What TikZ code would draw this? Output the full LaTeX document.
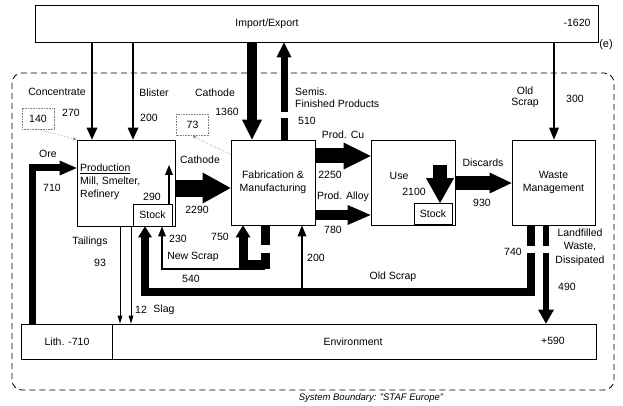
\documentclass[tikz,border=0pt]{standalone}
\usepackage{fontspec}
\setmainfont{Liberation Sans}
\usetikzlibrary{arrows.meta}
\begin{document}
\begin{tikzpicture}[x=1pt,y=-1pt,
  font=\fontsize{10.5}{12.5}\selectfont,
  box/.style={draw,line width=0.8pt,fill=white,inner sep=0pt},
  lbl/.style={inner sep=0pt},
  dotbox/.style={draw,densely dotted,gray,line width=0.6pt,inner sep=0pt,minimum width=32pt,minimum height=21pt,text=black},
  dotline/.style={densely dotted,gray,line width=0.5pt,-{Stealth[length=4pt,width=3.5pt,line width=0pt]}},
  flow/.style args={#1/#2/#3}{line width=#1,-{Triangle[width=#2,length=#3,line width=0pt]}},
  gap/.style={fill=white}]
\useasboundingbox (0,0) rectangle (623,406);
% system boundary
\draw[line width=0.8pt,dash pattern=on 6pt off 4pt,rounded corners=10pt] (12,73) rectangle (614,390);
\node[lbl,font=\fontsize{9.5}{11}\selectfont\itshape] (sb) at (371,398) {System Boundary: "STAF Europe"};
% boxes
\node[box,minimum width=563pt,minimum height=37pt] (ie) at (316.5,23.5) {};
\node[lbl] (ietxt) at (267,24) {Import/Export};
\node[lbl] (ienum) at (577,23) {-1620};
\node[lbl,font=\fontsize{11}{13}\selectfont] (e) at (606,45) {(e)};
\node[box,minimum width=98pt,minimum height=86pt] (prod) at (126,183) {};
\node[lbl,anchor=north west,align=left,font=\fontsize{10.5}{13}\selectfont] (ptxt) at (80,164) {\underline{Production}\\Mill, Smelter,\\Refinery};
\node[box,minimum width=39pt,minimum height=22pt] (pstock) at (152.5,215) {Stock};
\node[box,minimum width=84pt,minimum height=85pt,align=center,font=\fontsize{10.5}{13}\selectfont] (fab) at (273,182.5) {Fabrication \&\\Manufacturing};
\node[box,minimum width=84pt,minimum height=85pt] (use) at (413,182.5) {};
\node[lbl] (usetxt) at (399,176) {Use};
\node[lbl] (usenum) at (414,192) {2100};
\node[box,minimum width=83pt,minimum height=85pt,align=center,font=\fontsize{10.5}{12.5}\selectfont] (wm) at (553.5,182.5) {Waste\\Management};
\node[box,minimum width=575pt,minimum height=35pt] (env) at (308.5,341.5) {};
\draw[line width=0.8pt] (112,0 |- env.north) -- (112,0 |- env.south);
\node[lbl] (lith) at (67,342) {Lith. -710};
\node[lbl] (envtxt) at (353,342) {Environment};
\node[lbl] (envnum) at (553,341) {+590};
% flows from import/export
\draw[flow=2pt/11pt/12pt] (92,0 |- ie.south) -- (92,0 |- prod.north);
\draw[flow=2pt/11pt/12pt] (133,0 |- ie.south) -- (133,0 |- prod.north);
\draw[flow=10pt/20pt/20pt] (252,0 |- ie.south) -- (252,0 |- fab.north);
\draw[flow=7pt/15pt/15pt] (284,0 |- fab.north) -- (284,0 |- ie.south);
\fill[gap] (278,112) rectangle (291,118);
\draw[flow=2pt/10pt/12pt] (554,0 |- ie.south) -- (554,0 |- wm.north);
% ore
\draw[flow=7pt/15pt/17pt] (32,0 |- env.north) |- (prod.west |- 0,168);
% main chain
\draw[flow=17pt/31pt/28pt] (prod.east |- 0,188) -- (fab.west |- 0,188);
\draw[flow=15pt/27pt/27pt] (fab.east |- 0,156) -- (use.west |- 0,156);
\draw[flow=10pt/20pt/23pt] (fab.east |- 0,215) -- (use.west |- 0,215);
\draw[flow=13pt/21pt/22pt] (use.east |- 0,183) -- (wm.west |- 0,183);
\node[box,minimum width=38pt,minimum height=21pt] (ustock) at (433,214) {Stock};
\coordinate (usein) at (440,165);
\draw[flow=14pt/28pt/25pt] (usein) -- (440,0 |- ustock.north);
\coordinate (pout) at (169,165);
\draw[flow=2.2pt/8pt/10pt] (169,0 |- pstock.north) -- (pout);
% tailings and slag
\draw[flow=0.8pt/5pt/8pt] (120,0 |- prod.south) -- (120,0 |- env.north);
\draw[flow=0.8pt/5pt/8pt] (131,0 |- prod.south) -- (131,0 |- env.north);
% old scrap return
\draw[flow=8pt/14pt/11pt] (531,0 |- wm.south) -- (531,292) -- (145,292) -- (145,0 |- pstock.south);
\draw[flow=2pt/9pt/11pt] (302,292) -- (302,0 |- fab.south);
\draw[flow=6.5pt/16pt/14pt] (546,0 |- wm.south) -- (546,0 |- env.north);
\fill[gap] (525,246) rectangle (553,253);
% new scrap
\draw[flow=9pt/15pt/12pt] (265,0 |- fab.south) -- (265,264) -- (243,264) -- (243,0 |- fab.south);
\fill[gap] (258,245) rectangle (272,253);
\draw[flow=2pt/8pt/10pt] (265,269) -- (162,269) -- (162,0 |- pstock.south);
% dotted notes
\node[dotbox] (b140) at (38,118.5) {140};
\draw[dotline] (b140.south) -- (prod.north west);
\node[dotbox] (b73) at (192.5,125) {73};
\draw[dotline] ([yshift=-15pt]fab.north west) -- (b73.south);
% labels
\node[lbl] (l1) at (57,92) {Concentrate};
\node[lbl] (l2) at (71,113) {270};
\node[lbl] (l3) at (154,93) {Blister};
\node[lbl] (l4) at (149,118) {200};
\node[lbl] (l5) at (215,93) {Cathode};
\node[lbl] (l6) at (227,112) {1360};
\node[lbl,anchor=west] (l7) at (295,92) {Semis.};
\node[lbl,anchor=west] (l8) at (295,104) {Finished Products};
\node[lbl] (l9) at (307,121) {510};
\node[lbl] (l10) at (525,91) {Old};
\node[lbl] (l11) at (525,103) {Scrap};
\node[lbl] (l12) at (575,99) {300};
\node[lbl] (l13) at (48,154) {Ore};
\node[lbl] (l14) at (52,188) {710};
\node[lbl] (l15) at (200,160) {Cathode};
\node[lbl] (l16) at (197,210) {2290};
\node[lbl] (l17) at (152,197) {290};
\node[lbl] (l18) at (343,135) {Prod. Cu};
\node[lbl] (l19) at (330,175) {2250};
\node[lbl] (l20) at (343,197) {Prod. Alloy};
\node[lbl] (l21) at (333,230) {780};
\node[lbl] (l22) at (483,163) {Discards};
\node[lbl] (l23) at (482,203) {930};
\node[lbl] (l24) at (90,242) {Tailings};
\node[lbl] (l25) at (100,263) {93};
\node[lbl] (l26) at (141,310) {12};
\node[lbl] (l27) at (164,310) {Slag};
\node[lbl] (l28) at (178,239) {230};
\node[lbl] (l29) at (220,237) {750};
\node[lbl] (l30) at (193,257) {New Scrap};
\node[lbl] (l31) at (191,279) {540};
\node[lbl] (l32) at (316,258) {200};
\node[lbl] (l33) at (393,277) {Old Scrap};
\node[lbl] (l34) at (513,252) {740};
\node[lbl,align=center,font=\fontsize{10.5}{13.5}\selectfont] (l35) at (580,247) {Landfilled\\Waste,\\Dissipated};
\node[lbl] (l36) at (567,287) {490};
\end{tikzpicture}
\end{document}
